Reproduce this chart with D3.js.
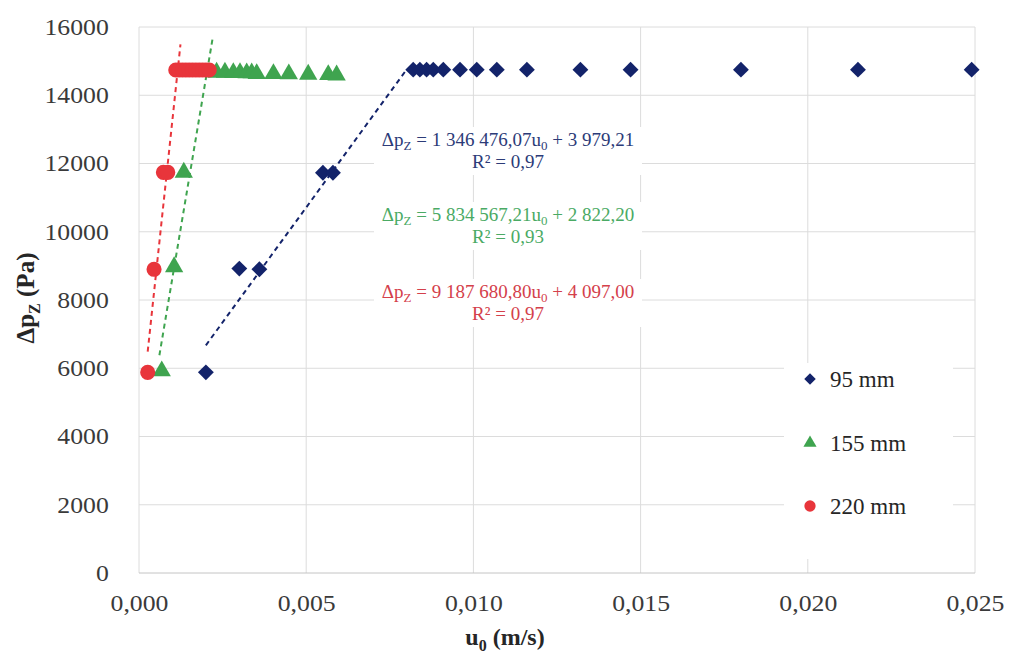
<!DOCTYPE html>
<html>
<head>
<meta charset="utf-8">
<script src="https://cdn.jsdelivr.net/npm/d3@7"></script>
<style>
  body { margin: 0; background: #fff; }
  text { font-family: 'Liberation Serif', 'DejaVu Serif', serif; }
</style>
</head>
<body>
<div id="chart"></div>
<script>
// 95 mm
const u95 = [0.0020, 0.0030, 0.0036, 0.0055, 0.0058, 0.0082, 0.0084, 0.0086, 0.0088, 0.0091, 0.0096, 0.0101, 0.0107, 0.0116, 0.0132, 0.0147, 0.0180, 0.0215, 0.0249];
const dp95 = [5880, 8920, 8900, 11730, 11730, 14750, 14750, 14750, 14750, 14750, 14750, 14750, 14750, 14750, 14750, 14750, 14750, 14750, 14750];
// 155 mm
const u155 = [0.00068, 0.00105, 0.00134, 0.00232, 0.00257, 0.00282, 0.00302, 0.00322, 0.00337, 0.00352, 0.00402, 0.00448, 0.00506, 0.00566, 0.00591];
const dp155 = [5950, 9000, 11770, 14700, 14700, 14690, 14690, 14680, 14680, 14660, 14660, 14650, 14640, 14630, 14620];
// 220 mm
const u220 = [0.00026, 0.00045, 0.00073, 0.00086, 0.00110, 0.00120, 0.00130, 0.00140, 0.00150, 0.00160, 0.00170, 0.00180, 0.00190, 0.00200, 0.00210];
const dp220 = [5880, 8900, 11740, 11740, 14740, 14740, 14740, 14740, 14740, 14740, 14740, 14740, 14740, 14740, 14740];

const seriesNames = ['95 mm', '155 mm', '220 mm'];
const seriesColors = ['#13236a', '#3fa44f', '#e8353b'];
const labelColors = ['#2c3b78', '#4aaa64', '#d4404b'];

// linear trendlines (slope, intercept, u range)
const fitSlope = [1346476.07, 5834567.21, 9187680.80];
const fitIntercept = [3979.21, 2822.20, 4097.00];
const fitFrom = [0.0020, 0.00061, 0.00026];
const fitTo = [0.0080, 0.00220, 0.00124];
const eqCoef = ['1 346 476,07', '5 834 567,21', '9 187 680,80'];
const eqConst = ['3 979,21', '2 822,20', '4 097,00'];
const eqR2 = ['0,97', '0,93', '0,97'];

const xTicks = [0, 0.005, 0.010, 0.015, 0.020, 0.025];
const yTicks = [0, 2000, 4000, 6000, 8000, 10000, 12000, 14000, 16000];

const serif = "'Liberation Serif', 'DejaVu Serif', serif";

var margin = { top: 27, right: 34, bottom: 82, left: 139 },
	width = 1009 - margin.left - margin.right,
	height = 655 - margin.top - margin.bottom;

var root = d3.select('#chart').append('svg')
	.attr('width', 1009)
	.attr('height', 655);

var svg = root.append('g')
	.attr('transform', 'translate(' + margin.left + ',' + margin.top + ')');

var x = d3.scaleLinear().domain([0, 0.025]).range([0, width]);
var y = d3.scaleLinear().domain([0, 16000]).range([height, 0]);

var fmtX = function (d) { return d3.format('.3f')(d).replace('.', ','); };

// grid
svg.append('g').selectAll('line').data(yTicks.slice(1)).enter().append('line')
	.attr('x1', 0).attr('x2', width)
	.attr('y1', (d) => y(d)).attr('y2', (d) => y(d))
	.attr('stroke', '#dcdcdc').attr('stroke-width', 1);
svg.append('g').selectAll('line').data(xTicks).enter().append('line')
	.attr('x1', (d) => x(d)).attr('x2', (d) => x(d))
	.attr('y1', 0).attr('y2', height)
	.attr('stroke', '#dcdcdc').attr('stroke-width', 1);
svg.append('line')
	.attr('x1', 0).attr('x2', width).attr('y1', height).attr('y2', height)
	.attr('stroke', '#c4c4c4').attr('stroke-width', 1);

// axes (labels only)
var xAxis = svg.append('g')
	.attr('transform', 'translate(0,' + height + ')')
	.call(d3.axisBottom(x).tickValues(xTicks).tickFormat(fmtX).tickSize(0).tickPadding(22))
	.attr('font-family', serif).attr('font-size', 23);
xAxis.select('.domain').remove();
xAxis.selectAll('text').style('font-family', serif).style('font-size', '23px').attr('fill', '#3a3a3a')
	.attr('transform', 'scale(1.12,1)');

var yAxis = svg.append('g')
	.call(d3.axisLeft(y).tickValues(yTicks).tickFormat(d3.format('d')).tickSize(0).tickPadding(27))
	.attr('font-family', serif).attr('font-size', 23);
yAxis.select('.domain').remove();
yAxis.selectAll('text').style('font-family', serif).style('font-size', '23px').attr('fill', '#3a3a3a')
	.attr('transform', 'scale(1.12,1)');

// legend box (white, covers grid)
svg.append('rect')
	.attr('x', 645).attr('y', 336).attr('width', 169).attr('height', 196)
	.attr('fill', '#fff');

// equation labels
var eqPos = [[508, 146], [508, 221], [508, 298]];
eqPos.forEach(function (p, i) {
	var g = svg.append('g').attr('transform', 'translate(' + (p[0] - margin.left) + ',' + (p[1] - margin.top) + ')');
	g.append('rect').attr('x', -134).attr('y', -19).attr('width', 268).attr('height', 48).attr('fill', '#fff');
	var t = g.append('text').attr('text-anchor', 'middle').attr('fill', labelColors[i]).style('font-size', '19px');
	t.append('tspan').text('Δp');
	t.append('tspan').attr('dy', 4).style('font-size', '13px').text('Z');
	t.append('tspan').attr('dy', -4).text(' = ' + eqCoef[i] + 'u');
	t.append('tspan').attr('dy', 4).style('font-size', '13px').text('0');
	t.append('tspan').attr('dy', -4).text(' + ' + eqConst[i]);
	g.append('text').attr('text-anchor', 'middle').attr('y', 22).attr('fill', labelColors[i])
		.style('font-size', '19px').text('R² = ' + eqR2[i]);
});

// trendlines
fitSlope.forEach(function (m, i) {
	var pts = [fitFrom[i], fitTo[i]].map((u) => [u, m * u + fitIntercept[i]]);
	svg.append('path')
		.datum(pts)
		.attr('d', d3.line().x((d) => x(d[0])).y((d) => y(d[1])))
		.attr('fill', 'none')
		.attr('stroke', seriesColors[i])
		.attr('stroke-width', 2)
		.attr('stroke-dasharray', '5,4');
});

// markers
var diamond = d3.symbol().type(d3.symbolDiamond2).size(160);
var triangle = d3.symbol().type(d3.symbolTriangle).size(145);
var circle = d3.symbol().type(d3.symbolCircle).size(180);

function drawSeries(us, ps, sym, color, dy) {
	svg.append('g').selectAll('path').data(us.map((u, k) => [u, ps[k]])).enter().append('path')
		.attr('d', sym)
		.attr('transform', (d) => 'translate(' + x(d[0]) + ',' + (y(d[1]) + dy) + ')')
		.attr('fill', color);
}
drawSeries(u95, dp95, diamond, seriesColors[0], 0);
drawSeries(u155, dp155, triangle, seriesColors[1], 1);
drawSeries(u220, dp220, circle, seriesColors[2], 0);

// legend
var legSyms = [d3.symbol().type(d3.symbolDiamond2).size(85), d3.symbol().type(d3.symbolTriangle).size(75), d3.symbol().type(d3.symbolCircle).size(100)];
var legY = [379, 443, 506];
seriesNames.forEach(function (n, i) {
	var g = svg.append('g').attr('transform', 'translate(' + (810 - margin.left) + ',' + (legY[i] - margin.top) + ')');
	g.append('path').attr('d', legSyms[i]).attr('fill', seriesColors[i]);
	g.append('text').attr('x', 20).attr('y', 8).style('font-size', '23px').attr('fill', '#262626').text(n);
});

// axis titles
var xt = root.append('text').attr('x', 505).attr('y', 645).attr('text-anchor', 'middle')
	.style('font-size', '24px').style('font-weight', 'bold').attr('fill', '#262626');
xt.append('tspan').text('u');
xt.append('tspan').attr('dy', 6).style('font-size', '16px').text('0');
xt.append('tspan').attr('dy', -6).text(' (m/s)');

var yt = root.append('text').attr('transform', 'translate(34,298) rotate(-90)').attr('text-anchor', 'middle')
	.style('font-size', '25px').style('font-weight', 'bold').attr('fill', '#262626');
yt.append('tspan').text('Δp');
yt.append('tspan').attr('dy', 6).style('font-size', '16px').text('Z');
yt.append('tspan').attr('dy', -6).text(' (Pa)');
</script>
</body>
</html>
